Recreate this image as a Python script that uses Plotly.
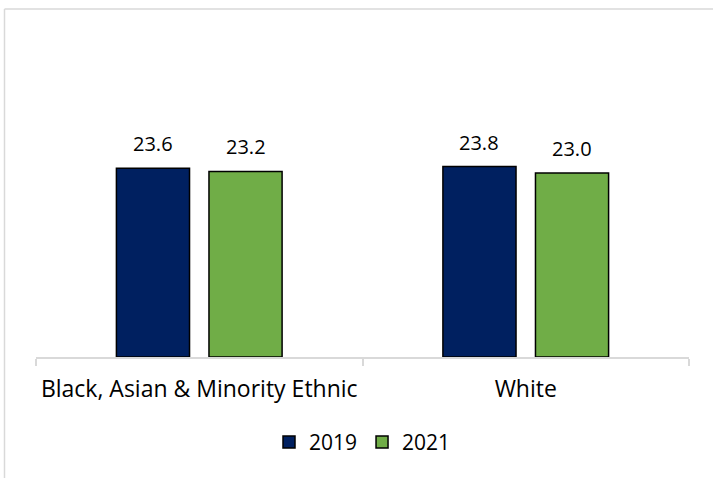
import plotly.graph_objects as go

categories = ["Black, Asian & Minority Ethnic", "White"]
years = ["2019", "2021"]
values_2019 = [23.6, 23.8]
values_2021 = [23.2, 23.0]

colors = {"2019": "#002060", "2021": "#70AD47"}
W, H = 713, 478
L, R, T, B = 36, 24, 117, 121
FONT = "Open Sans"
BARGAP, GROUPGAP = 0.433, 0.21

fig = go.Figure()
series = [values_2019, values_2021]
for year, vals in zip(years, series):
    fig.add_trace(go.Bar(
        x=categories, y=vals, name=year,
        marker=dict(color=colors[year], line=dict(color="black", width=1.5)),
        cliponaxis=False,
    ))

# value labels above each bar, shifted to the bar's slot within the group
pw, ph = W - L - R, H - T - B
slot = pw / len(categories) * (1 - BARGAP) / len(years)
for i, vals in enumerate(series):
    shift = (i - (len(years) - 1) / 2) * slot
    for cat, v in zip(categories, vals):
        fig.add_annotation(x=cat, y=v, text=f"{v:.1f}", showarrow=False,
                           xshift=shift, yshift=9, yanchor="bottom",
                           font=dict(size=20, family=FONT, color="black"))

# light frame along top and left edge
def px_to_paper_x(px):
    return (px - L) / pw
def px_to_paper_y(py):
    return (H - B - py) / ph

frame = dict(color="#d9d9d9", width=1.5)
fig.add_shape(type="line", xref="paper", yref="paper",
              x0=px_to_paper_x(4.5), x1=px_to_paper_x(4.5),
              y0=px_to_paper_y(9), y1=px_to_paper_y(480), line=frame)
fig.add_shape(type="line", xref="paper", yref="paper",
              x0=px_to_paper_x(4.5), x1=px_to_paper_x(720),
              y0=px_to_paper_y(9), y1=px_to_paper_y(9), line=frame)

fig.update_layout(
    width=W, height=H,
    margin=dict(l=L, r=R, t=T, b=B),
    paper_bgcolor="white", plot_bgcolor="white",
    barmode="group", bargap=BARGAP, bargroupgap=GROUPGAP,
    font=dict(family=FONT, size=18, color="black"),
    showlegend=True,
    legend=dict(orientation="h", x=0.5, xanchor="center", y=-0.27, yanchor="top",
                font=dict(size=21, family=FONT), itemwidth=30, tracegroupgap=0),
    xaxis=dict(showline=True, linecolor="#d9d9d9", linewidth=1.5,
               ticks="outside", tickson="boundaries", ticklen=7,
               tickcolor="#d9d9d9", tickwidth=1.5, ticklabelstandoff=11,
               tickfont=dict(size=23, family=FONT, color="black"),
               showgrid=False),
    yaxis=dict(range=[0, 30], visible=False, showgrid=False, zeroline=False),
)

fig.write_html("out.html")
